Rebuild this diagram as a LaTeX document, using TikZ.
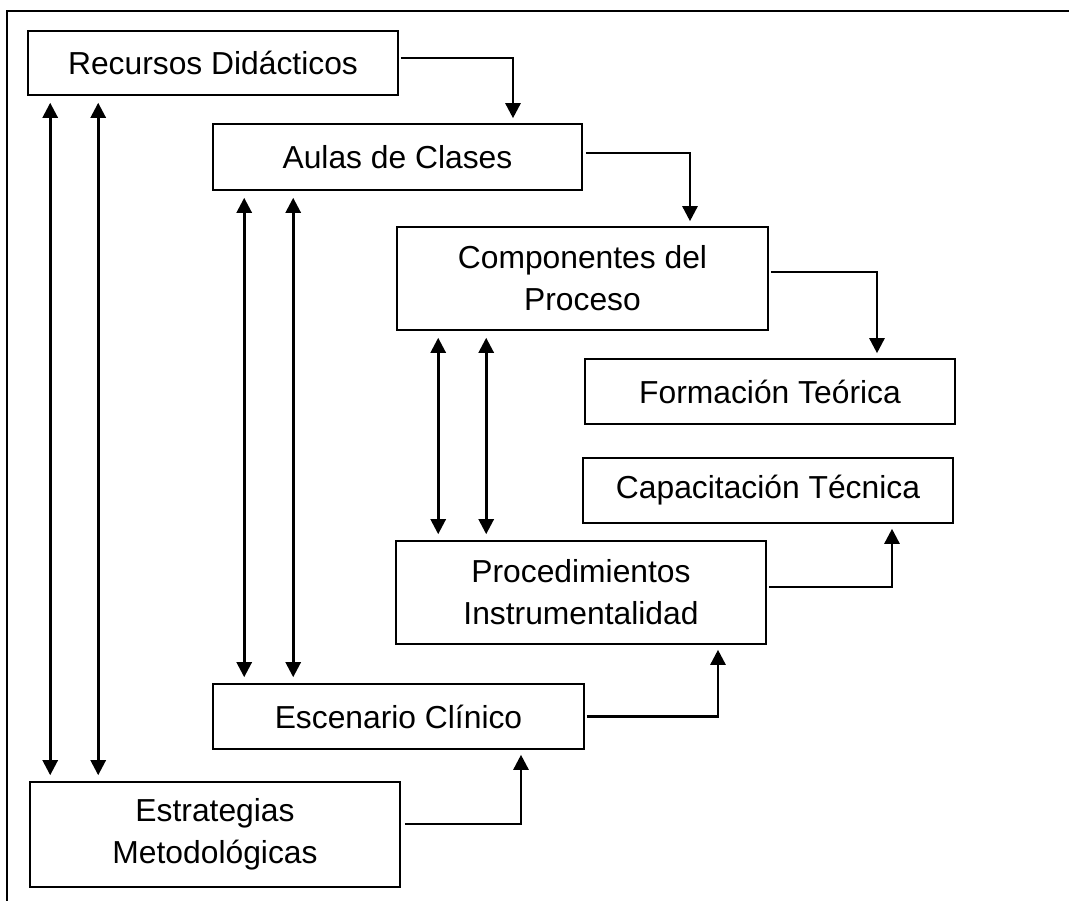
\documentclass[tikz,border=0pt]{standalone}
\usepackage{fontspec}
\setmainfont{Liberation Sans}
\usetikzlibrary{arrows.meta}
\begin{document}
\begin{tikzpicture}[x=1pt,y=-1pt,
    caja/.style={draw,line width=1.6pt,inner sep=0pt,align=center,
      font=\fontsize{31.8}{42}\selectfont},
    flecha/.style={line width=2.6pt,-{Triangle[length=15pt,width=15pt]},shorten >=5pt},
    doble/.style={line width=2.6pt,{Triangle[length=15pt,width=15pt]}-{Triangle[length=15pt,width=15pt]},
      shorten >=6pt,shorten <=7pt}]

\useasboundingbox (0,0) rectangle (1069,901);
\draw[line width=1.6pt] (7,901) -- (7,11) -- (1069,11);

	\node[caja,minimum width=370pt,minimum height=64pt] (rec) at (213,63) {Recursos Didácticos};
	\node[caja,minimum width=369pt,minimum height=66pt] (aul) at (397.5,157) {Aulas de Clases};
	\node[caja,minimum width=371pt,minimum height=103pt] (com) at (582.5,278.5) {Componentes del\\Proceso};
	\node[caja,minimum width=370pt,minimum height=65pt] (for) at (770,391.5) {Formación Teórica};
	\node[caja,minimum width=370pt,minimum height=65pt] (cap) at (768,490.5) {Capacitación Técnica};
	\node[caja,minimum width=370pt,minimum height=103pt] (pro) at (581,592.5) {Procedimientos\\Instrumentalidad};
	\node[caja,minimum width=371pt,minimum height=65pt] (esc) at (398.5,716.5) {Escenario Clínico};
	\node[caja,minimum width=370pt,minimum height=105pt] (est) at (215,834.5) {Estrategias\\Metodológicas};

	\draw[flecha] ([shift={(2,-5)}]rec.east) -| ([xshift=115.5]aul.north);
	\draw[flecha] ([shift={(3,-4)}]aul.east) -| ([xshift=107.5]com.north);
	\draw[flecha] ([shift={(2,-6.5)}]com.east) -| ([xshift=107]for.north);
	\draw[flecha] ([shift={(2,-5.5)}]pro.east) -| ([xshift=124]cap.south);
	\draw[flecha] ([shift={(2,0)}]esc.east) -| ([xshift=137]pro.south);
	\draw[flecha] ([shift={(4,-10.5)}]est.east) -| ([xshift=122.5]esc.south);

	\draw[doble] ([xshift=23]rec.south west) -- ([xshift=23]rec.south west |- est.north);
	\draw[doble] ([xshift=71]rec.south west) -- ([xshift=71]rec.south west |- est.north);
	\draw[doble] ([xshift=32]aul.south west) -- ([xshift=32]aul.south west |- esc.north);
	\draw[doble] ([xshift=81]aul.south west) -- ([xshift=81]aul.south west |- esc.north);
	\draw[doble] ([xshift=42]com.south west) -- ([xshift=42]com.south west |- pro.north);
	\draw[doble] ([xshift=90]com.south west) -- ([xshift=90]com.south west |- pro.north);

\end{tikzpicture}
\end{document}
